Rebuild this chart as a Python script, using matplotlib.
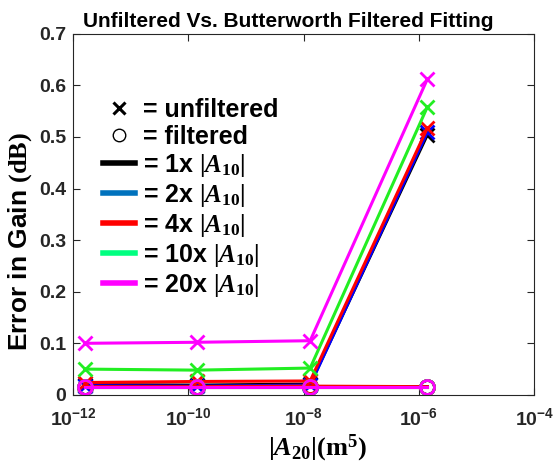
import numpy as np
import matplotlib
matplotlib.use("Agg")
import matplotlib.pyplot as plt
from matplotlib.lines import Line2D

# Serif bold maths for the symbol labels, bold sans for the tick exponents
plt.rcParams['font.family'] = ['Liberation Sans', 'DejaVu Sans']
plt.rcParams['font.weight'] = 'bold'
plt.rcParams['mathtext.fontset'] = 'custom'
plt.rcParams['mathtext.rm'] = 'Liberation Serif:bold'
plt.rcParams['mathtext.it'] = 'Liberation Serif:italic:bold'
plt.rcParams['mathtext.bf'] = 'Liberation Sans:bold'
plt.rcParams['mathtext.sf'] = 'Liberation Sans:bold'

# |A20| sweep (m^5)
a20 = [1.6e-12, 1.4e-10, 1.3e-8, 1.4e-6]
scales = ['1x', '2x', '4x', '10x', '20x']

# gain error (dB) without filtering
err_unfilt = {
    '1x':  [0.020, 0.019, 0.021, 0.504],
    '2x':  [0.018, 0.017, 0.019, 0.509],
    '4x':  [0.024, 0.026, 0.027, 0.517],
    '10x': [0.050, 0.048, 0.052, 0.558],
    '20x': [0.100, 0.102, 0.105, 0.612],
}
# gain error (dB) after Butterworth filtering
err_filt = {
    '1x':  [0.016, 0.016, 0.016, 0.016],
    '2x':  [0.015, 0.015, 0.016, 0.016],
    '4x':  [0.016, 0.016, 0.017, 0.016],
    '10x': [0.016, 0.016, 0.016, 0.016],
    '20x': [0.016, 0.016, 0.016, 0.016],
}

line_colors = {'1x': 'black', '2x': '#0000ff', '4x': '#ff0000',
               '10x': '#22ee22', '20x': '#ff00ff'}
legend_colors = {'1x': 'black', '2x': '#0072bd', '4x': '#ff0000',
                 '10x': '#00ff80', '20x': '#ff00ff'}

fig = plt.figure(figsize=(5.53, 4.69), dpi=100)
ax = fig.add_axes([0.132, 0.158, 0.834, 0.770])

for s in scales:
    c = line_colors[s]
    ax.plot(a20, err_unfilt[s], '-x', color=c, lw=2.2, ms=10, mew=2)
    ax.plot(a20, err_filt[s], '-o', color=c, lw=2.2, ms=10, mew=2,
            mfc='none')

ax.set_xscale('log')
ax.set_xlim(1e-12, 1e-4)
ax.set_ylim(0, 0.7)
ax.set_xticks([1e-12, 1e-10, 1e-8, 1e-6, 1e-4])
ax.set_xticklabels([r'$\mathbf{10^{-12}}$', r'$\mathbf{10^{-10}}$',
                    r'$\mathbf{10^{-8}}$', r'$\mathbf{10^{-6}}$',
                    r'$\mathbf{10^{-4}}$'])
ax.minorticks_off()
yt = np.arange(0, 0.71, 0.1)
ax.set_yticks(yt)
ax.set_yticklabels(['0'] + ['%.1f' % v for v in yt[1:]])
ax.tick_params(direction='in', top=True, right=True, length=5,
               labelsize=14, colors='#262626')
ax.tick_params(axis='x', pad=9)
ax.tick_params(axis='y', pad=5)
for sp in ax.spines.values():
    sp.set_color('#262626')

ax.set_title('Unfiltered Vs. Butterworth Filtered Fitting',
             fontsize=15, fontweight='bold', pad=5, x=0.466)
ax.set_ylabel(r'Error in Gain $\mathrm{(dB)}$', fontsize=19,
              fontweight='bold')
ax.yaxis.set_label_coords(-0.085, 0.424)
ax.set_xlabel(r'$|\mathit{A}_{\mathrm{20}}|(\mathrm{m}^{\mathrm{5}})$',
              fontsize=19)
ax.xaxis.set_label_coords(0.53, -0.105)

handles = [Line2D([], [], ls='none', marker='x', color='k', ms=8, mew=2.2),
           Line2D([], [], ls='none', marker='o', color='k', ms=9, mew=1,
                  mfc='none')]
labels = ['= unfiltered', '= filtered']
for s in scales:
    handles.append(Line2D([], [], color=legend_colors[s], lw=4))
    labels.append('= %s $|\\mathit{A}_{\\mathrm{10}}|$' % s)

ax.legend(handles, labels, loc='upper left', bbox_to_anchor=(0.044, 0.85),
          frameon=False, fontsize=18, handlelength=1.25, handletextpad=0.35,
          labelspacing=0.12, borderaxespad=0)

fig.savefig('out.png', dpi=100)
